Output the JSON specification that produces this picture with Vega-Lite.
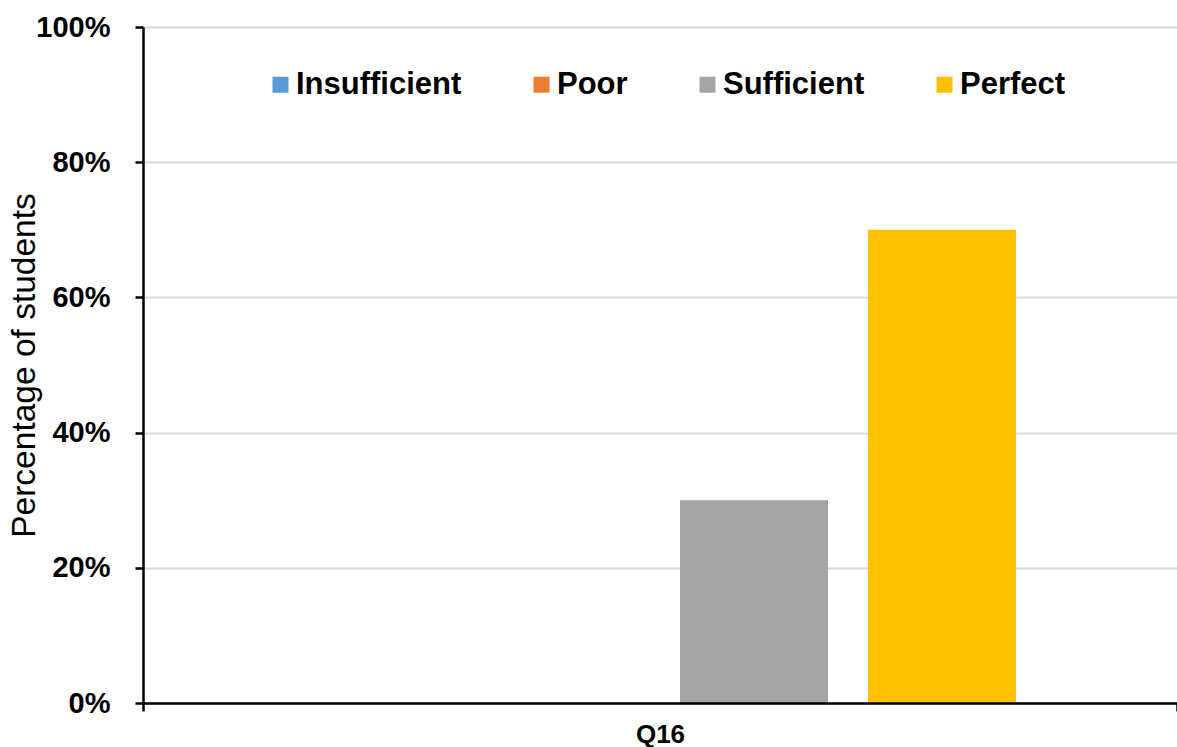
{
  "$schema": "https://vega.github.io/schema/vega-lite/v6.json",
  "width": 1034,
  "height": 676,
  "autosize": "none",
  "padding": {"left": 143, "top": 27, "right": 0, "bottom": 44},
  "background": "white",
  "config": {"view": {"stroke": null}, "font": "Liberation Sans"},
  "data": {
    "values": [
      {"question": "Q16", "level": "Insufficient", "share": 0},
      {"question": "Q16", "level": "Poor", "share": 0},
      {"question": "Q16", "level": "Sufficient", "share": 0.3},
      {"question": "Q16", "level": "Perfect", "share": 0.7}
    ]
  },
  "mark": {"type": "bar"},
  "encoding": {
    "x": {
      "field": "question",
      "type": "nominal",
      "scale": {"paddingInner": 0, "paddingOuter": 0},
      "axis": {
        "title": null,
        "labelAngle": 0,
        "labelFontSize": 26,
        "labelFontWeight": "bold",
        "labelColor": "black",
        "labelPadding": 10,
        "tickBand": "extent",
        "tickSize": 8,
        "tickWidth": 2.5,
        "tickColor": "black",
        "domainColor": "black",
        "domainWidth": 2.5,
        "grid": false,
        "zindex": 1
      }
    },
    "xOffset": {
      "field": "level",
      "type": "nominal",
      "sort": ["Insufficient", "Poor", "Sufficient", "Perfect"],
      "scale": {"paddingInner": 0.2128, "paddingOuter": 0.8564}
    },
    "y": {
      "field": "share",
      "type": "quantitative",
      "scale": {"domain": [0, 1]},
      "axis": {
        "values": [0, 0.2, 0.4, 0.6, 0.8, 1],
        "format": ".0%",
        "labelFontSize": 29,
        "labelFontWeight": "bold",
        "labelColor": "black",
        "labelPadding": 25,
        "tickSize": 8,
        "tickWidth": 2.5,
        "tickColor": "black",
        "domainColor": "black",
        "domainWidth": 2.5,
        "grid": true,
        "gridColor": "#d9d9d9",
        "gridWidth": 2,
        "title": "Percentage of students",
        "titleFontSize": 33.5,
        "titleFontWeight": "normal",
        "titleColor": "black",
        "titleX": -109,
        "titleY": 338,
        "titleAngle": -90,
        "titleAlign": "center",
        "titleBaseline": "alphabetic"
      }
    },
    "color": {
      "field": "level",
      "type": "nominal",
      "sort": ["Insufficient", "Poor", "Sufficient", "Perfect"],
      "scale": {
        "domain": ["Insufficient", "Poor", "Sufficient", "Perfect"],
        "range": ["#5B9BD5", "#ED7D31", "#A5A5A5", "#FFC000"]
      },
      "legend": {
        "orient": "none",
        "direction": "horizontal",
        "legendX": 122,
        "legendY": 42,
        "title": null,
        "padding": 0,
        "symbolType": "square",
        "symbolSize": 256,
        "symbolStrokeWidth": 0,
        "symbolOpacity": 1,
        "labelFontSize": 31,
        "labelFontWeight": "bold",
        "labelColor": "black",
        "labelOffset": 0,
        "columnPadding": 64,
        "labelLimit": 400
      }
    }
  }
}
